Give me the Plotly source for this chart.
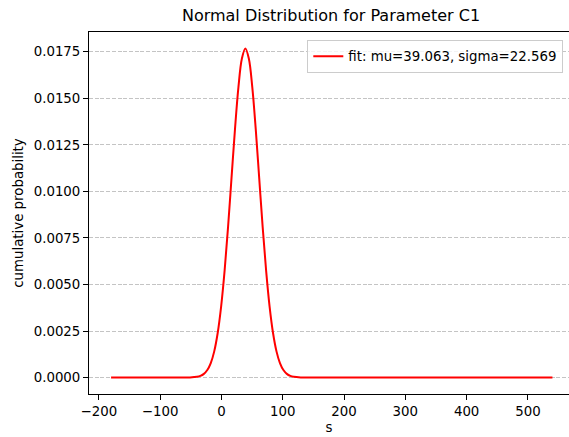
import plotly.graph_objects as go

# Values (fitted normal pdf, mu=39.063, sigma=22.569)
s_values = [-180, -100, -60, -51.21, -39.93, -34.29, -28.64, -23.00, -17.36, -11.72,
            -6.08, -0.43, 5.21, 10.85, 16.49, 22.14, 27.78, 33.42, 39.06, 44.71,
            50.35, 55.99, 61.63, 67.27, 72.92, 78.56, 84.20, 89.84, 95.49, 101.13,
            106.77, 112.41, 118.05, 129.34, 140, 180, 300, 540]
prob_values = [0, 0, 0.0000012, 0.0000059, 0.0000387, 0.0000899, 0.000196, 0.000403,
               0.000777, 0.001406, 0.002392, 0.003823, 0.005739, 0.008093, 0.010722,
               0.013343, 0.015600, 0.017133, 0.017677, 0.017133, 0.015600, 0.013343,
               0.010722, 0.008093, 0.005739, 0.003823, 0.002392, 0.001406, 0.000777,
               0.000403, 0.000196, 0.0000899, 0.0000387, 0.0000059, 0.0000008, 0, 0, 0]
legend_label = "fit: mu=39.063, sigma=22.569"
title_text = "Normal Distribution for Parameter C1"
x_label = "s"
y_label = "cumulative probability"

FONT = "DejaVu Sans"
FS = 13.33

fig = go.Figure()
fig.add_trace(go.Scatter(
    x=s_values, y=prob_values, mode="lines", name=legend_label,
    line=dict(color="#ff0000", width=2, shape="spline"),
    showlegend=True,
))

fig.update_layout(
    width=569, height=437,
    margin=dict(l=89, r=0, t=32, b=43),
    paper_bgcolor="white", plot_bgcolor="white",
    font=dict(family=FONT, size=FS, color="black"),
    title=dict(text=title_text, font=dict(family=FONT, size=16, color="black"),
               xref="container", x=331/569, xanchor="center",
               yref="container", y=1 - 15/437, yanchor="middle"),
    showlegend=True,
    legend=dict(x=(307.3 - 89) / 480, y=1 - (40 - 32) / 362, xanchor="left", yanchor="top",
                bgcolor="rgba(255,255,255,0.8)", bordercolor="#cccccc", borderwidth=1,
                font=dict(family=FONT, size=FS, color="black"), itemwidth=30),
    xaxis=dict(range=[-216, 567], dtick=100, tick0=0, showgrid=False, zeroline=False,
               showline=True, linecolor="black", linewidth=1, mirror=True,
               ticks="outside", ticklen=5, tickwidth=1, tickcolor="black",
               title=dict(text=x_label, standoff=4, font=dict(size=FS))),
    yaxis=dict(range=[-0.000884, 0.018561], dtick=0.0025, tick0=0, tickformat=".4f",
               showgrid=True, gridcolor="#c4c4c4", gridwidth=1, griddash="4px,1.7px",
               zeroline=False, showline=True, linecolor="black", linewidth=1,
               ticks="outside", ticklen=5, tickwidth=1, tickcolor="black",
               title=dict(text=y_label, standoff=7, font=dict(size=FS))),
)

fig.write_html("out.html")
